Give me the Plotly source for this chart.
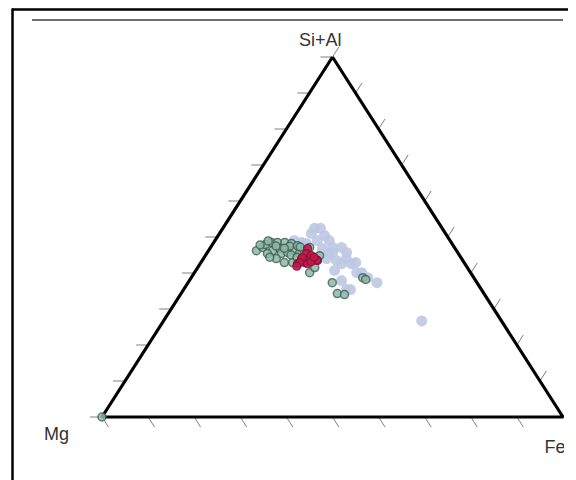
import plotly.graph_objects as go
import numpy as np

# ---- data (percent: Si+Al, Mg, Fe) ----
blue_sial = [52.4, 52.4, 51.0, 49.0, 47.1, 47.1, 45.7, 45.4, 44.0, 43.5, 44.0, 42.6, 42.9, 42.6,
             40.1, 40.1, 38.7, 37.3, 37.9, 35.4, 35.4, 26.7, 46.8, 45.7, 49.0, 48.5, 48.2, 50.4,
             49.0, 40.7]
blue_mg = [27.7, 26.4, 29.1, 26.2, 26.4, 24.5, 24.1, 28.0, 29.3, 27.4, 25.0, 24.6, 23.5, 26.7,
           24.7, 23.6, 23.0, 21.7, 29.1, 29.3, 28.4, 17.3, 28.8, 27.1, 33.8, 32.5, 31.6, 26.5,
           28.8, 29.2]
blue_fe = [19.9, 21.2, 19.9, 24.8, 26.5, 28.4, 30.2, 26.6, 26.7, 29.1, 31.0, 32.8, 33.6, 30.7,
           35.2, 36.3, 38.3, 41.0, 33.0, 35.3, 36.2, 56.0, 24.4, 27.2, 17.2, 19.0, 20.2, 23.1,
           22.2, 30.1]

green_sial = [46.2, 47.1, 48.5, 48.5, 48.5, 48.2, 46.8, 46.2, 45.4, 45.7, 46.2, 42.9, 42.9, 45.4,
              40.1, 41.5, 44.8, 47.1, 46.2, 45.4, 44.0, 37.3, 34.3, 34.0, 38.7, 38.2, 0.0, 47.9,
              47.4, 47.6, 47.8, 48.9, 47.5, 46.9, 45.0, 44.4, 44.4, 47.2]
green_mg = [43.4, 41.6, 39.0, 37.7, 36.1, 34.8, 38.1, 39.9, 38.4, 36.9, 35.2, 39.0, 37.2, 34.5,
            34.9, 33.1, 30.4, 31.4, 33.0, 41.4, 40.2, 31.4, 31.8, 30.4, 24.1, 23.7, 100.0, 40.6,
            35.6, 33.8, 41.8, 39.5, 38.5, 37.0, 36.5, 35.5, 41.4, 33.4]
green_fe = [10.4, 11.3, 12.5, 13.8, 15.4, 17.0, 15.1, 13.9, 16.2, 17.4, 18.6, 18.1, 19.9, 20.1,
            25.0, 25.4, 24.8, 21.5, 20.8, 13.2, 15.8, 31.3, 33.9, 35.6, 37.2, 38.1, 0.0, 11.5,
            17.0, 18.6, 10.4, 11.6, 14.0, 16.1, 18.5, 20.1, 14.2, 19.4]

red_sial = [46.8, 45.4, 44.0, 42.6, 42.9, 43.5, 43.5, 44.0, 44.3, 44.8, 42.9, 42.6, 41.9, 43.6,
            43.1, 44.4]
red_mg = [32.0, 33.0, 34.7, 36.3, 34.6, 32.6, 31.5, 33.0, 34.4, 32.2, 35.7, 34.1, 36.8, 31.6,
          33.1, 31.8]
red_fe = [21.2, 21.6, 21.3, 21.1, 22.5, 23.9, 25.0, 23.0, 21.3, 23.0, 21.4, 23.3, 21.3, 24.8,
          23.8, 23.8]

tick_values = [i * 10 for i in range(11)]
vertex_labels = ["Si+Al", "Mg", "Fe"]

# ---- layout constants (pixels within the figure) ----
W, H = 568, 472
PX_MG, PX_FE, PY_BASE, PY_APEX = 94, 555, 409, 49
SX = PX_FE - PX_MG
SY = PY_BASE - PY_APEX


def to_xy(sial, mg, fe):
    s = np.asarray(sial, float)
    m = np.asarray(mg, float)
    f = np.asarray(fe, float)
    tot = s + m + f
    a = s / tot
    c = f / tot
    return c + a / 2.0, a


def px_offset(dpx, dpy):
    return dpx / SX, -dpy / SY


fig = go.Figure()

# ticks
TL = 12
tx, ty = [], []
for v in tick_values:
    x0, y0 = to_xy(v, 100 - v, 0)
    dx, dy = px_offset(-TL, 0)
    tx += [float(x0), float(x0 + dx), None]
    ty += [float(y0), float(y0 + dy), None]
rl = np.hypot(SX / 2, SY)
ux, uy = (SX / 2) / rl, SY / rl
for v in tick_values:
    x0, y0 = to_xy(0, 100 - v, v)
    dx, dy = px_offset(TL * ux, TL * uy)
    tx += [float(x0), float(x0 + dx), None]
    ty += [float(y0), float(y0 + dy), None]
for v in tick_values:
    x0, y0 = to_xy(100 - v, 0, v)
    dx, dy = px_offset(TL * ux, -TL * uy)
    tx += [float(x0), float(x0 + dx), None]
    ty += [float(y0), float(y0 + dy), None]

fig.add_trace(go.Scatter(x=tx, y=ty, mode="lines", line=dict(color="#808080", width=1),
                         hoverinfo="skip", showlegend=False))

# triangle outline
cx, cy = to_xy([100, 0, 0, 100], [0, 100, 0, 0], [0, 0, 100, 0])
fig.add_trace(go.Scatter(x=cx, y=cy, mode="lines", line=dict(color="black", width=3.2),
                         hoverinfo="skip", showlegend=False))

# data
bx, by = to_xy(blue_sial, blue_mg, blue_fe)
fig.add_trace(go.Scatter(x=bx, y=by, mode="markers", showlegend=False,
                         marker=dict(size=11, color="#bcc8e2", opacity=0.9)))
gx, gy = to_xy(green_sial, green_mg, green_fe)
fig.add_trace(go.Scatter(x=gx, y=gy, mode="markers", showlegend=False,
                         marker=dict(size=8, color="#92b8a7",
                                     line=dict(color="#3f665a", width=1.5), opacity=0.85)))
rx, ry = to_xy(red_sial, red_mg, red_fe)
fig.add_trace(go.Scatter(x=rx, y=ry, mode="markers", showlegend=False,
                         marker=dict(size=8, color="#cf1540", opacity=0.9,
                                     line=dict(color="#761846", width=1.2))))

# vertex labels
lx, ly = to_xy([100, 0, 0], [0, 100, 0], [0, 0, 100])
font = dict(family="Liberation Sans, Arial, sans-serif", size=18, color="#333333")
fig.add_trace(go.Scatter(x=[float(lx[2]) - 8 / SX], y=[float(ly[2]) - 31 / SY], mode="text",
                         text=[vertex_labels[2]], textposition="middle center", textfont=font,
                         cliponaxis=False, hoverinfo="skip", showlegend=False))

x_range = [-PX_MG / SX, (W - PX_MG) / SX]
y_range = [-(H - PY_BASE) / SY, PY_BASE / SY]

fig.update_layout(
    width=W, height=H,
    margin=dict(l=0, r=0, t=0, b=0),
    paper_bgcolor="white", plot_bgcolor="white",
    xaxis=dict(range=x_range, visible=False, fixedrange=True),
    yaxis=dict(range=y_range, visible=False, fixedrange=True),
    annotations=[
        dict(x=float(lx[0]), y=float(ly[0]), xref="x", yref="y", text=vertex_labels[0],
             showarrow=False, font=font, xshift=-12, yshift=17),
        dict(x=float(lx[1]), y=float(ly[1]), xref="x", yref="y", text=vertex_labels[1],
             showarrow=False, font=font, xshift=-46, yshift=-17),
    ],
    shapes=[
        dict(type="rect", xref="paper", yref="paper", x0=(PX_FE + 1) / W, x1=1.0,
             y0=0, y1=1 - 6 / H, fillcolor="white", line=dict(width=0), layer="above"),
        dict(type="line", xref="paper", yref="paper", x0=4 / W, x1=1.0,
             y0=1 - 1.5 / H, y1=1 - 1.5 / H, line=dict(color="black", width=2.5), layer="above"),
        dict(type="line", xref="paper", yref="paper", x0=4.5 / W, x1=4.5 / W,
             y0=0, y1=1 - 0.5 / H, line=dict(color="black", width=2.5), layer="above"),
        dict(type="line", xref="paper", yref="paper", x0=24 / W, x1=PX_FE / W,
             y0=1 - 12 / H, y1=1 - 12 / H, line=dict(color="#6e6e6e", width=2), layer="above"),
    ],
)

fig.write_html("out.html")
